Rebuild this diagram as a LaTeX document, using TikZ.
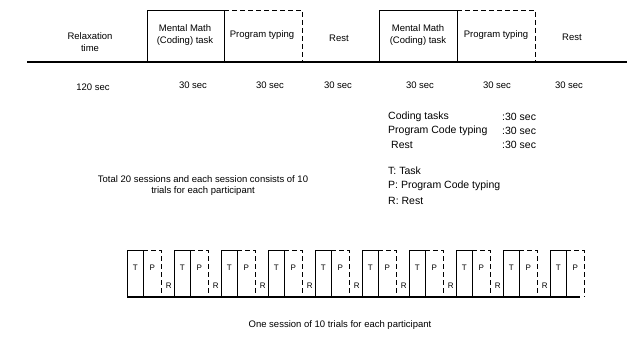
\documentclass[tikz,border=0pt]{standalone}
\usepackage{fontspec}
\setmainfont{Liberation Sans}
\begin{document}
\begin{tikzpicture}[x=1pt,y=-1pt,
  lbl/.style={inner sep=0pt, font=\fontsize{9.5}{11.5}\selectfont, align=center},
  leg/.style={inner sep=0pt, anchor=west, font=\fontsize{10.5}{12}\selectfont},
  small/.style={inner sep=0pt, font=\fontsize{8}{9}\selectfont},
  solidbox/.style={draw, line width=0.8pt},
  dashbox/.style={draw, line width=0.8pt, dash pattern=on 5pt off 3pt},
  base/.style={draw, line width=1.5pt}]
\useasboundingbox (0,0) rectangle (627,337);
% ---- top timeline ----
\draw[base] (27,62) -- (627,62);
\draw[solidbox] (147,62) rectangle (224,10);
\draw[dashbox] (224,10) -- (302,10) -- (302,62);
\draw[solidbox] (379,62) rectangle (457,10);
\draw[dashbox] (457,10) -- (535,10) -- (535,62);
\node[lbl] (relax) at (90,42) {Relaxation\\time};
\node[lbl] (mm1) at (185,35) {Mental Math\\(Coding) task};
\node[lbl] (pt1) at (262,35) {Program typing};
\node[lbl] (r1) at (339,38) {Rest};
\node[lbl] (mm2) at (418,35) {Mental Math\\(Coding) task};
\node[lbl] (pt2) at (496,35) {Program typing};
\node[lbl] (r2) at (572,37) {Rest};
\node[lbl] (s0) at (93,87) {120 sec};
\node[lbl] (s1) at (193,85) {30 sec};
\node[lbl] (s2) at (270,85) {30 sec};
\node[lbl] (s3) at (338,85) {30 sec};
\node[lbl] (s4) at (420,85) {30 sec};
\node[lbl] (s5) at (497,85) {30 sec};
\node[lbl] (s6) at (569,85) {30 sec};
% ---- legend ----
\node[leg] (l1) at (388,117) {Coding tasks};
\node[leg] (l2) at (388,131) {Program Code typing};
\node[leg] (l3) at (391,145) {Rest};
\node[leg] (v1) at (502,117) {:30 sec};
\node[leg] (v2) at (502,131) {:30 sec};
\node[leg] (v3) at (502,145) {:30 sec};
\node[leg] (k1) at (388,171) {T: Task};
\node[leg] (k2) at (388,186) {P: Program Code typing};
\node[leg] (k3) at (388,201) {R: Rest};
\node[lbl] (total) at (203,185.5) {Total 20 sessions and each session consists of 10\\trials for each participant};
% ---- session strip ----
\draw[base] (127.3,297) -- (580,297);
\foreach \i in {0,...,9}{
  \pgfmathsetmacro{\xo}{127.3+47*\i}
  \draw[solidbox] (\xo,297) rectangle (\xo+16,250);
  \draw[dashbox] (\xo+16,250) -- (\xo+34,250) -- (\xo+34,297);
  \node[small] (t\i) at (\xo+8,268) {T};
  \node[small] (p\i) at (\xo+25,268) {P};
}
\foreach \i in {0,...,8}{
  \pgfmathsetmacro{\xo}{127.3+47*\i}
  \node[small] (r\i) at (\xo+41.5,286) {R};
}
\node[lbl] (cap) at (340,325) {One session of 10 trials for each participant};
\end{tikzpicture}
\end{document}
